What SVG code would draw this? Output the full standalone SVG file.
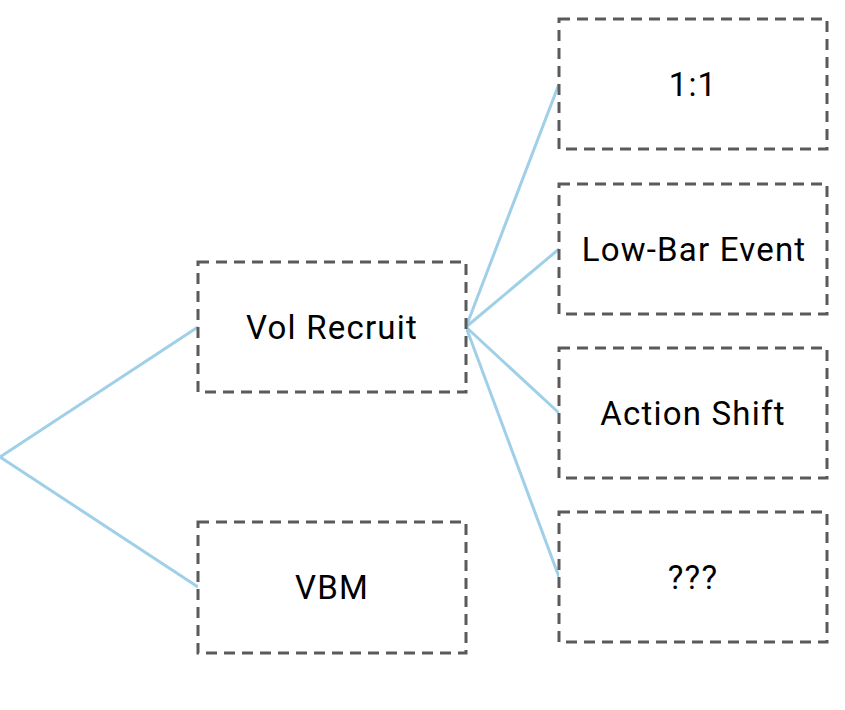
<svg xmlns="http://www.w3.org/2000/svg" width="845" height="710" viewBox="0 0 845 710">
<style>
.box{fill:#fff;stroke:#5a5a5a;stroke-width:3;stroke-dasharray:11 7}
.lbl{font-family:Roboto,"Liberation Sans",sans-serif;font-size:33px;letter-spacing:1.2px;fill:#000;text-anchor:middle;dominant-baseline:central}
.edge{stroke:#9fd0e8;stroke-width:3;fill:none}
</style>
<rect width="845" height="710" fill="#fff"/>
<g id="connectors">
<path class="edge" d="M0,457 L198,327"/>
<path class="edge" d="M0,457 L198,587"/>
<path class="edge" d="M466,327 L559,84"/>
<path class="edge" d="M466,327 L559,249"/>
<path class="edge" d="M466,327 L559,413"/>
<path class="edge" d="M466,327 L559,577"/>
</g>
<g id="vol-recruit"><rect class="box" x="198" y="262" width="268" height="130"/><text class="lbl" x="332" y="327">Vol Recruit</text></g>
<g id="vbm"><rect class="box" x="198" y="522" width="268" height="131"/><text class="lbl" x="332" y="587">VBM</text></g>
<g id="one-to-one"><rect class="box" x="559" y="19" width="268" height="130"/><text class="lbl" x="693" y="84">1:1</text></g>
<g id="low-bar-event"><rect class="box" x="559" y="184" width="268" height="130"/><text class="lbl" x="694" y="249">Low-Bar Event</text></g>
<g id="action-shift"><rect class="box" x="559" y="348" width="268" height="130"/><text class="lbl" x="693" y="413">Action Shift</text></g>
<g id="unknown"><rect class="box" x="559" y="512" width="268" height="130"/><text class="lbl" x="693" y="577">???</text></g>
</svg>
